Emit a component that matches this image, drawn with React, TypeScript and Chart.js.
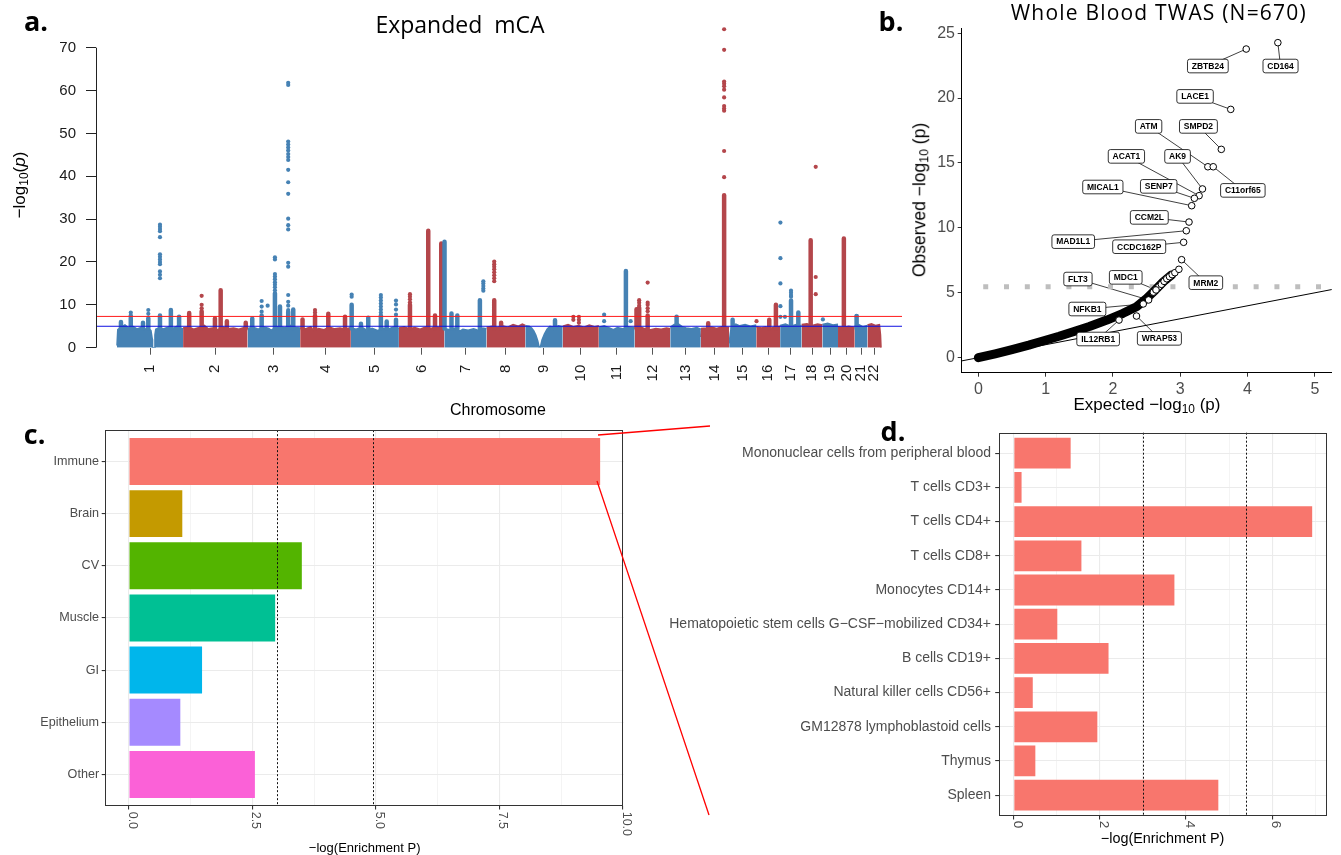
import React, { useEffect, useRef } from "react";
import { Chart, registerables } from "chart.js";

Chart.register(...registerables);

const SANS = '"Liberation Sans", Arial, Helvetica, sans-serif';
const HEAD = '"Open Sans", "Noto Sans", sans-serif';

/* ================= a. Expanded mCA (Manhattan) ================= */
const chromosomes = ["1","2","3","4","5","6","7","8","9","10","11","12","13","14","15","16","17","18","19","20","21","22"];
const chrLengthMb = [249, 243, 198, 191, 181, 171, 159, 146, 141, 136, 135, 134, 115, 107, 102, 90, 81, 78, 59, 63, 48, 51];
const manhattanYTicks = [0, 10, 20, 30, 40, 50, 60, 70];
const genomeWideLine = 7.3;
const suggestiveLine = 5;
const columnFloor = 4.5;

// top edge of the dense cloud of points, per chromosome: [position Mb, -log10(p)]
const bandProfiles: number[][][] = [
  [[0,0.5],[3,4.2],[15,4.8],[30,5.3],[45,4.6],[60,5.0],[75,4.4],[90,4.7],[105,4.3],[118,4.6],[128,4.0],[133,2.0],[134,0],[142,0],[143,3.0],[146,4.3],[160,4.7],[175,4.4],[195,4.9],[210,4.5],[225,5.0],[240,4.6],[249,4.4]],
  [[0,4.6],[20,4.9],[40,4.3],[60,4.7],[80,5.2],[95,4.4],[110,4.6],[130,4.2],[150,4.8],[170,4.4],[190,4.6],[210,4.3],[230,4.7],[243,4.5]],
  [[0,4.5],[20,4.8],[40,4.3],[60,4.9],[80,4.5],[90,4.0],[100,4.6],[120,5.0],[140,4.6],[160,5.2],[180,4.7],[198,4.6]],
  [[0,4.6],[20,4.4],[40,4.9],[50,4.0],[70,4.5],[90,4.2],[110,4.8],[130,4.4],[150,4.6],[170,4.3],[191,4.7]],
  [[0,4.6],[20,4.3],[40,4.8],[60,4.1],[80,4.5],[100,4.0],[120,4.6],[140,4.3],[160,4.8],[181,4.5]],
  [[0,4.6],[20,4.9],[40,4.4],[60,4.7],[80,4.3],[100,4.8],[120,4.5],[140,4.9],[160,4.6],[171,4.8]],
  [[0,4.5],[20,4.2],[40,4.6],[60,3.9],[70,4.3],[90,4.1],[110,4.4],[130,4.0],[145,4.6],[159,4.4]],
  [[0,4.8],[20,5.0],[40,4.7],[60,5.1],[80,4.8],[100,5.4],[120,5.0],[135,5.5],[146,5.2]],
  [[0,5.1],[15,5.0],[24,4.6],[32,3.9],[40,2.9],[47,1.6],[52,0.2],[57,0.2],[63,1.8],[72,3.2],[82,4.3],[93,5.0],[110,4.8],[125,5.1],[141,4.9]],
  [[0,5.0],[20,5.4],[40,4.9],[60,5.2],[80,4.8],[100,5.3],[120,4.9],[136,5.1]],
  [[0,4.8],[20,5.1],[40,4.6],[55,4.2],[70,4.7],[90,4.4],[110,4.9],[135,4.6]],
  [[0,4.7],[20,4.9],[40,4.4],[60,4.2],[80,4.5],[100,4.3],[120,4.6],[134,4.4]],
  [[0,4.8],[15,5.4],[30,5.6],[45,4.9],[60,4.6],[80,4.4],[100,4.7],[115,4.3]],
  [[0,2.5],[3,4.5],[20,4.6],[40,4.8],[60,4.5],[80,4.9],[107,4.7]],
  [[0,1.0],[4,3.2],[8,4.8],[25,5.5],[40,5.1],[60,5.4],[80,5.0],[102,5.3]],
  [[0,4.9],[20,4.6],[35,4.9],[50,4.5],[70,4.8],[90,5.0]],
  [[0,5.2],[20,5.5],[40,5.0],[60,5.4],[81,5.1]],
  [[0,5.4],[20,5.6],[40,5.2],[60,5.5],[78,5.3]],
  [[0,5.4],[20,5.7],[40,5.3],[59,5.5]],
  [[0,4.9],[20,4.7],[40,5.0],[63,4.8]],
  [[0,5.0],[15,5.4],[30,4.9],[48,5.2]],
  [[0,5.3],[15,5.6],[30,5.2],[45,5.4],[49,3.0],[51,0]],
];

// dense vertical stacks of points (chromosome, position Mb, top value)
const columnChr = [1,1,1,1,1,1,1,2,2,2,2,2,2,3,3,3,3,3,3,4,4,4,4,5,5,5,5,5,5,6,6,6,6,7,7,7,7,8,8,9,11,12,12,12,13,14,14,15,16,16,17,17,18,20,21];
const columnPos = [162,52,203,234,98,15,118,23,70,120,141.6,165,236,17.6,53,103,122,153,172,9,56,106,169,3,38,65.5,113,135,170,41.6,110.5,136,159.5,0.8,27,49,134,29,55,112,102,7,17,49,24,88,28,13,49,74,41,68.5,34,22,7];
const columnTop = [7.5,7.0,8.8,7.2,5.8,6.0,6.9,8.1,8.5,6.8,13.4,6.2,5.8,6.8,7.5,12.7,9.6,8.4,8.9,6.6,7.2,7.9,7.2,10.0,5.6,7.0,7.5,6.1,6.5,10.0,27.3,7.5,24.3,24.7,8.0,7.5,11.1,11.1,5.8,6.4,17.9,9.0,9.3,7.5,7.2,35.6,5.7,6.5,6.5,10.0,11.0,8.2,25.1,25.5,7.4];

// separate points above the clouds (chromosome, position Mb, values)
const dotChr = [1,1,1,2,3,3,3,3,4,5,5,5,6,7,8,10,10,11,11,12,12,14,16,17,17,17,18,19,21];
const dotPos = [162,118,52,70,53,75.6,103,153,56,3,113,170,41.6,147,29,40,61,20,120,17,49,88,1,1,41,18,53,2,7];
const dotValues: number[][] = [
  [28.7,28.2,27.7,27.2,25.8,21.8,21.2,20.6,20.0,19.5,17.8,17.0,16.2],
  [8.8,7.9],
  [8.2,7.6],
  [12.1,10.0,9.2],
  [10.9,9.6,8.4],
  [9.8],
  [21.1,20.6,17.2,16.6,16.0,15.3,14.7,14.1,13.4],
  [61.8,61.3,48.1,47.4,46.7,46.0,45.2,44.5,43.8,41.5,38.6,35.9,30.1,28.6,27.6,19.8,18.9,12.3,10.7,9.8,8.8],
  [8.8,8.2,7.6],
  [12.4,11.9],
  [12.3,11.7,11.0,10.3,9.6,8.9,8.2],
  [11.0,10.1,8.9,7.7],
  [12.5,11.9,11.3,10.6],
  [15.5,15.0,14.4,13.8,13.3],
  [20.1,19.5,18.9,18.3,17.6,16.9,16.2,15.5],
  [7.2,6.5],
  [7.2,6.5,5.8],
  [7.7,6.2],
  [6.2],
  [11.1,10.5,9.8],
  [15.2,10.5,10.0,9.2,8.5],
  [74.3,69.5,62.1,61.6,61.0,60.2,58.4,56.4,55.8,55.3,45.9,39.8],
  [6.2],
  [29.2,20.9,15.0,9.7,7.2],
  [13.3,12.8,12.3,11.9],
  [7.2],
  [42.2,16.5,12.5],
  [6.6],
  [7.4],
];
const manhattanXMin = -79;
const manhattanXMax = 2957;
const manhattanYMax = 76.5;

/* ================= b. Whole Blood TWAS QQ ================= */
const qqXTicks = [0, 1, 2, 3, 4, 5];
const qqYTicks = [0, 5, 10, 15, 20, 25];
const qqBulkExpected = [0, 0.25, 0.5, 0.75, 0.92, 1.2, 1.41, 1.65, 1.91, 2.15, 2.35, 2.5, 2.63, 2.75, 2.87];
const qqBulkObserved = [0, 0.3, 0.62, 0.97, 1.23, 1.65, 2.0, 2.4, 2.9, 3.42, 3.93, 4.57, 5.22, 5.86, 6.37];
const qqChainExpected = [2.6, 2.64, 2.68, 2.72, 2.76, 2.8, 2.84, 2.88, 2.92, 2.98];
const qqChainObserved = [5.05, 5.25, 5.45, 5.65, 5.88, 6.08, 6.24, 6.4, 6.55, 6.81];
const geneNames = ["CD164","ZBTB24","LACE1","SMPD2","ATM","C11orf65","AK9","ACAT1","SENP7","MICAL1","CCM2L","MAD1L1","CCDC162P","MRM2","MDC1","FLT3","NFKB1","WRAP53","IL12RB1"];
const geneExpected = [4.45, 3.98, 3.75, 3.61, 3.41, 3.49, 3.33, 3.28, 3.21, 3.17, 3.13, 3.09, 3.05, 3.02, 2.64, 2.53, 2.45, 2.35, 2.09];
const geneObserved = [24.27, 23.78, 19.13, 16.05, 14.71, 14.71, 13.0, 12.48, 12.28, 11.71, 10.45, 9.78, 8.89, 7.55, 5.22, 4.45, 4.14, 3.21, 2.9];
const labelAnchorExpected = [4.49, 3.41, 3.22, 3.27, 2.53, 3.93, 2.96, 2.20, 2.68, 1.85, 2.54, 1.41, 2.39, 3.38, 2.19, 1.48, 1.62, 2.69, 1.78];
const labelAnchorObserved = [22.47, 22.47, 20.13, 17.82, 17.82, 12.89, 15.51, 15.51, 13.2, 13.15, 10.81, 8.94, 8.55, 5.78, 6.19, 6.06, 3.75, 1.49, 1.44];
const qqSignificance = 5.47;
const qqDiagonalEnds = [-0.3, 5.3];

/* ================= c. tissue enrichment ================= */
const tissueCategories = ["Immune", "Brain", "CV", "Muscle", "GI", "Epithelium", "Other"];
const tissueValues = [9.54, 1.08, 3.50, 2.96, 1.48, 1.04, 2.55];
const tissueColors = ["#F8766D", "#C49A00", "#53B400", "#00C094", "#00B6EB", "#A58AFF", "#FB61D7"];
const tissueThresholds = [3.0, 4.94];
const tissueGridTicks = [0, 1.25, 2.5, 3.75, 5, 6.25, 7.5, 8.75, 10];
const tissueLabelTicks = [0, 2.5, 5, 7.5, 10];
const tissueLabelText = ["0.0", "2.5", "5.0", "7.5", "10.0"];

/* ================= d. immune cell enrichment ================= */
const immuneCategories = [
  "Mononuclear cells from peripheral blood", "T cells CD3+", "T cells CD4+", "T cells CD8+", "Monocytes CD14+",
  "Hematopoietic stem cells G\u2212CSF\u2212mobilized CD34+", "B cells CD19+", "Natural killer cells CD56+",
  "GM12878 lymphoblastoid cells", "Thymus", "Spleen",
];
const immuneValues = [1.32, 0.18, 6.93, 1.57, 3.73, 1.01, 2.20, 0.44, 1.94, 0.50, 4.75];
const immuneThresholds = [3.0, 5.39];
const immuneGridTicks = [0, 1, 2, 3, 4, 5, 6, 7];
const immuneLabelTicks = [0, 2, 4, 6];
const immuneLabelText = ["0", "2", "4", "6"];

/* ================= helpers ================= */
const BLUE = "#4682B4";
const RED = "#B4464B";
const chrStart: number[] = [];
chrLengthMb.reduce((acc, len, i) => { chrStart[i] = acc; return acc + len; }, 0);
const chrColor = (i: number) => (i % 2 === 0 ? BLUE : RED);
const gx = (chrIndex: number, pos: number) => chrStart[chrIndex] + pos;

const manhattanAxisPlugin = {
  id: "manhattanAxis",
  afterDraw(chart: any) {
    const { ctx, chartArea: a, scales: { y } } = chart;
    const x = Math.round(a.left) + 0.5;
    ctx.save();
    ctx.strokeStyle = "#222";
    ctx.lineWidth = 1;
    ctx.beginPath();
    ctx.moveTo(x, y.getPixelForValue(manhattanYTicks[0]));
    ctx.lineTo(x, y.getPixelForValue(manhattanYTicks[manhattanYTicks.length - 1]));
    ctx.stroke();
    ctx.restore();
  },
};

function makeManhattan(): any {
  const bands = bandProfiles.map((prof, i) => ({
    data: prof.map(([p, h]) => ({ x: gx(i, p), y: h })),
    borderColor: chrColor(i), backgroundColor: chrColor(i), borderWidth: 1.5,
    pointRadius: 0, fill: "origin", order: 6,
  }));
  const cols = [0, 1].map((parity) => {
    const pts: any[] = [];
    columnChr.forEach((c, k) => {
      if ((c - 1) % 2 !== parity) return;
      const x = gx(c - 1, columnPos[k]);
      pts.push({ x, y: columnFloor }, { x, y: columnTop[k] }, { x, y: null });
    });
    return { data: pts, borderColor: parity ? RED : BLUE, borderWidth: 4.5, borderCapStyle: "round",
      pointRadius: 0, fill: false, spanGaps: false, order: 4 };
  });
  const dots = [0, 1].map((parity) => {
    const pts: any[] = [];
    dotChr.forEach((c, k) => {
      if ((c - 1) % 2 !== parity) return;
      dotValues[k].forEach((v) => pts.push({ x: gx(c - 1, dotPos[k]), y: v }));
    });
    return { data: pts, showLine: false, pointRadius: 2.1, pointBorderWidth: 0,
      pointBackgroundColor: parity ? RED : BLUE, order: 3 };
  });
  const hline = (v: number, color: string) => ({
    data: [{ x: manhattanXMin, y: v }, { x: manhattanXMax, y: v }],
    borderColor: color, borderWidth: 1, pointRadius: 0, fill: false, order: 0,
  });
  return {
    type: "line",
    data: { datasets: [...bands, ...cols, ...dots, hline(genomeWideLine, "#FF1A1A"), hline(suggestiveLine, "#1010E0")] },
    options: {
      animation: false, responsive: false, devicePixelRatio: 1, events: [],
      layout: { padding: { left: 0, right: 8, top: 19.84, bottom: 0 } },
      plugins: { legend: { display: false }, tooltip: { enabled: false } },
      scales: {
        x: {
          type: "linear", min: manhattanXMin, max: manhattanXMax,
          afterBuildTicks: (s: any) => { s.ticks = chromosomes.map((_, i) => ({ value: chrStart[i] + chrLengthMb[i] / 2 })); },
          afterFit: (s: any) => { s.height = 72.3; },
          ticks: { autoSkip: false, minRotation: 90, maxRotation: 90, padding: 10, color: "#1a1a1a",
            font: { family: SANS, size: 15 }, callback: (_v: any, i: number) => chromosomes[i] },
          grid: { drawOnChartArea: false, drawTicks: true, tickLength: 7, tickColor: "#555", lineWidth: 1 },
          border: { display: false },
        },
        y: {
          type: "linear", min: 0, max: manhattanYMax,
          afterBuildTicks: (s: any) => { s.ticks = manhattanYTicks.map((v) => ({ value: v })); },
          afterFit: (s: any) => { s.width = 96; },
          ticks: { padding: 10, color: "#1a1a1a", font: { family: SANS, size: 15 } },
          grid: { drawOnChartArea: false, drawTicks: true, tickLength: 10, tickColor: "#222" },
          border: { display: false },
        },
      },
    },
    plugins: [manhattanAxisPlugin],
  };
}

const qqLabelPlugin = {
  id: "qqLabels",
  beforeDatasetsDraw(chart: any) {
    const { ctx, scales: { x, y } } = chart;
    ctx.save();
    ctx.strokeStyle = "#000";
    ctx.lineWidth = 0.75;
    geneNames.forEach((_, i) => {
      ctx.beginPath();
      ctx.moveTo(x.getPixelForValue(labelAnchorExpected[i]), y.getPixelForValue(labelAnchorObserved[i]));
      ctx.lineTo(x.getPixelForValue(geneExpected[i]), y.getPixelForValue(geneObserved[i]));
      ctx.stroke();
    });
    ctx.restore();
  },
  afterDatasetsDraw(chart: any) {
    const { ctx, scales: { x, y } } = chart;
    ctx.save();
    ctx.font = `bold 8.5px ${SANS}`;
    ctx.textAlign = "center";
    ctx.textBaseline = "middle";
    geneNames.forEach((name, i) => {
      const cx = x.getPixelForValue(labelAnchorExpected[i]);
      const cy = y.getPixelForValue(labelAnchorObserved[i]);
      const w = ctx.measureText(name).width + 8.6;
      const h = 13.6;
      ctx.beginPath();
      ctx.roundRect(cx - w / 2, cy - h / 2, w, h, 2.2);
      ctx.fillStyle = "#fff";
      ctx.fill();
      ctx.lineWidth = 0.8;
      ctx.strokeStyle = "#000";
      ctx.stroke();
      ctx.fillStyle = "#000";
      ctx.fillText(name, cx, cy + 0.5);
    });
    ctx.restore();
  },
};

function makeQQ(): any {
  const circle = { showLine: false, pointRadius: 3.3, pointBorderWidth: 1, pointBorderColor: "#000", pointBackgroundColor: "#fff" };
  return {
    type: "line",
    data: {
      datasets: [
        { data: qqDiagonalEnds.map((v) => ({ x: v, y: v })), borderColor: "#000", borderWidth: 1, pointRadius: 0, order: 5 },
        { data: [{ x: 0, y: qqSignificance }, { x: 5.25, y: qqSignificance }], borderColor: "#BEBEBE", borderWidth: 5,
          borderDash: [5, 15.8], borderDashOffset: 15.9, borderCapStyle: "butt", pointRadius: 0, order: 4 },
        { data: qqBulkExpected.map((v, i) => ({ x: v, y: qqBulkObserved[i] })), borderColor: "#000", borderWidth: 9,
          borderCapStyle: "round", borderJoinStyle: "round", pointRadius: 0, order: 3 },
        { data: qqChainExpected.map((v, i) => ({ x: v, y: qqChainObserved[i] })), ...circle, order: 2 },
        { data: geneExpected.map((v, i) => ({ x: v, y: geneObserved[i] })), ...circle, order: 1 },
      ],
    },
    options: {
      animation: false, responsive: false, devicePixelRatio: 1, events: [],
      layout: { padding: { left: 0, right: 9.3, top: 28, bottom: 0 } },
      plugins: { legend: { display: false }, tooltip: { enabled: false } },
      scales: {
        x: {
          type: "linear", min: -0.247, max: 5.25,
          afterBuildTicks: (s: any) => { s.ticks = qqXTicks.map((v) => ({ value: v })); },
          afterFit: (s: any) => { s.height = 47.3; },
          ticks: { padding: 3, color: "#4D4D4D", font: { family: SANS, size: 16 } },
          grid: { drawOnChartArea: false, drawTicks: true, tickLength: 4, tickColor: "#333" },
          border: { display: true, color: "#000", width: 1 },
        },
        y: {
          type: "linear", min: -1.156, max: 25.4,
          afterBuildTicks: (s: any) => { s.ticks = qqYTicks.map((v) => ({ value: v })); },
          afterFit: (s: any) => { s.width = 61.7; },
          ticks: { padding: 2.7, color: "#4D4D4D", font: { family: SANS, size: 16 } },
          grid: { drawOnChartArea: false, drawTicks: true, tickLength: 4, tickColor: "#333" },
          border: { display: true, color: "#000", width: 1 },
        },
      },
    },
    plugins: [qqLabelPlugin],
  };
}

const enrichPlugin = {
  id: "enrich",
  afterDatasetsDraw(chart: any, _a: any, o: any) {
    const { ctx, chartArea: a, scales: { x } } = chart;
    ctx.save();
    ctx.strokeStyle = "#111";
    ctx.lineWidth = 1;
    ctx.setLineDash([2, 2]);
    o.thresholds.forEach((t: number) => {
      const px = Math.round(x.getPixelForValue(t)) + 0.5;
      ctx.beginPath();
      ctx.moveTo(px, a.top);
      ctx.lineTo(px, a.bottom);
      ctx.stroke();
    });
    ctx.restore();
  },
  afterDraw(chart: any, _a: any, o: any) {
    const { ctx, chartArea: a, scales: { x } } = chart;
    ctx.save();
    ctx.strokeStyle = "#333";
    ctx.lineWidth = 1;
    ctx.strokeRect(Math.round(a.left) + 0.5, Math.round(a.top) + 0.5, Math.round(a.right - a.left) - 1, Math.round(a.bottom - a.top) - 1);
    ctx.fillStyle = "#4D4D4D";
    ctx.font = `${o.xFont}px ${SANS}`;
    ctx.textAlign = "left";
    ctx.textBaseline = "middle";
    o.labelTicks.forEach((v: number, i: number) => {
      ctx.save();
      ctx.translate(x.getPixelForValue(v) + o.labelShift, a.bottom + o.labelGap);
      ctx.rotate(Math.PI / 2);
      ctx.fillText(o.labelText[i], 0, 0);
      ctx.restore();
    });
    ctx.restore();
  },
};

function makeEnrichment(p: any): any {
  const major = new Set(p.labelTicks);
  const n = p.categories.length;
  return {
    type: "bar",
    data: {
      datasets: [{
        data: p.values.map((v: number, i: number) => ({ x: v, y: i })),
        backgroundColor: p.colors, borderWidth: 0, barPercentage: 0.9, categoryPercentage: 1,
      }],
    },
    options: {
      indexAxis: "y",
      animation: false, responsive: false, devicePixelRatio: 1, events: [],
      layout: { padding: { left: 0, right: p.padRight, top: p.padTop, bottom: 0 } },
      plugins: {
        legend: { display: false }, tooltip: { enabled: false },
        enrich: { thresholds: p.thresholds, labelTicks: p.labelTicks, labelText: p.labelText, xFont: p.xFont, labelShift: 3.5, labelGap: p.labelGap },
      },
      scales: {
        x: {
          type: "linear", min: p.xMin, max: p.xMax,
          afterBuildTicks: (s: any) => { s.ticks = p.gridTicks.map((v: number) => ({ value: v })); },
          afterFit: (s: any) => { s.height = p.xHeight; },
          ticks: { display: false },
          grid: {
            color: "#EBEBEB",
            lineWidth: (c: any) => (c.tick && major.has(c.tick.value) ? 1.1 : 0.55),
            tickColor: (c: any) => (c.tick && major.has(c.tick.value) ? "#333" : "rgba(0,0,0,0)"),
            drawTicks: true, tickLength: 3.7,
          },
          border: { display: false },
        },
        y: {
          type: "linear", reverse: true, min: -0.6, max: n - 0.4, offset: false,
          afterBuildTicks: (s: any) => { s.ticks = p.categories.map((_: any, i: number) => ({ value: i })); },
          afterFit: (s: any) => { s.width = p.yWidth; },
          ticks: { autoSkip: false, padding: p.yPad, color: "#4D4D4D", font: { family: SANS, size: p.yFont },
            callback: (_v: any, i: number) => p.categories[i] },
          grid: { color: "#EBEBEB", lineWidth: 1.1, drawTicks: true, tickLength: 3.7, tickColor: "#333", offset: false },
          border: { display: false },
        },
      },
    },
    plugins: [enrichPlugin],
  };
}

const makeTissue = () => makeEnrichment({
  categories: tissueCategories, values: tissueValues, colors: tissueColors, thresholds: tissueThresholds,
  xMin: -0.477, xMax: 10.017, gridTicks: tissueGridTicks, labelTicks: tissueLabelTicks, labelText: tissueLabelText,
  yFont: 12.6, xFont: 12.5, yWidth: 105.4, xHeight: 49.3, padRight: 26.3, padTop: 8.3, yPad: 2.6, labelGap: 6,
});

const makeImmune = () => makeEnrichment({
  categories: immuneCategories, values: immuneValues, colors: "#F8766D", thresholds: immuneThresholds,
  xMin: -0.3465, xMax: 7.2765, gridTicks: immuneGridTicks, labelTicks: immuneLabelTicks, labelText: immuneLabelText,
  yFont: 14, xFont: 13.5, yWidth: 348.9, xHeight: 39.3, padRight: 13.9, padTop: 12.7, yPad: 4.2, labelGap: 5,
});

function ChartBox({ left, top, width, height, make }: any) {
  const ref = useRef<HTMLCanvasElement>(null);
  useEffect(() => {
    const chart = new Chart(ref.current as HTMLCanvasElement, make());
    return () => chart.destroy();
  }, []);
  return <canvas ref={ref} width={width} height={height} style={{ position: "absolute", left, top, width, height }} />;
}

function Txt({ x, y, size, rotate = 0, family = SANS, weight = 400, color = "#000", spacing = 0, children }: any) {
  return (
    <div style={{
      position: "absolute", left: x, top: y, transform: `translate(-50%, -50%) rotate(${rotate}deg)`,
      fontSize: size, fontFamily: family, fontWeight: weight, color, whiteSpace: "pre", lineHeight: 1, letterSpacing: spacing,
    }}>{children}</div>
  );
}

const subStyle: any = { fontSize: "0.7em", verticalAlign: "-0.28em", lineHeight: 0 };

export default function App() {
  return (
    <div style={{ position: "absolute", left: 0, top: 0, width: 1341, height: 855, background: "#fff", overflow: "hidden" }}>
      <ChartBox left={0} top={0} width={910} height={420} make={makeManhattan} />
      <ChartBox left={900} top={0} width={441} height={420} make={makeQQ} />
      <ChartBox left={0} top={420} width={650} height={435} make={makeTissue} />
      <ChartBox left={650} top={420} width={691} height={435} make={makeImmune} />

      <Txt x={36} y={19.5} size={27} family={HEAD} weight={700}>a.</Txt>
      <Txt x={891} y={19.5} size={27} family={HEAD} weight={700}>b.</Txt>
      <Txt x={34.6} y={432.5} size={27} family={HEAD} weight={700}>c.</Txt>
      <Txt x={893} y={429.5} size={27} family={HEAD} weight={700}>d.</Txt>

      <Txt x={460} y={24.4} size={23} family={HEAD}>{"Expanded  mCA"}</Txt>
      <Txt x={1158.8} y={11.9} size={21} family={HEAD} spacing={1.2}>Whole Blood TWAS (N=670)</Txt>

      <Txt x={18.5} y={185} size={17} rotate={-90}>{"\u2212log"}<span style={subStyle}>10</span>(<i>p</i>)</Txt>
      <Txt x={498} y={409.5} size={16}>Chromosome</Txt>

      <Txt x={920} y={200} size={17.5} rotate={-90}>{"Observed \u2212log"}<span style={subStyle}>10</span>{" (p)"}</Txt>
      <Txt x={1147} y={404} size={17}>{"Expected \u2212log"}<span style={subStyle}>10</span>{" (p)"}</Txt>

      <Txt x={364.7} y={846.5} size={13}>{"\u2212log(Enrichment P)"}</Txt>
      <Txt x={1162.6} y={837.8} size={14.4}>{"\u2212log(Enrichment P)"}</Txt>

      <svg width={1341} height={855} style={{ position: "absolute", left: 0, top: 0, pointerEvents: "none" }}>
        <line x1={598} y1={435} x2={710} y2={426} stroke="#FF0000" strokeWidth={1.3} />
        <line x1={597} y1={481} x2={709} y2={815} stroke="#FF0000" strokeWidth={1.3} />
      </svg>
    </div>
  );
}
